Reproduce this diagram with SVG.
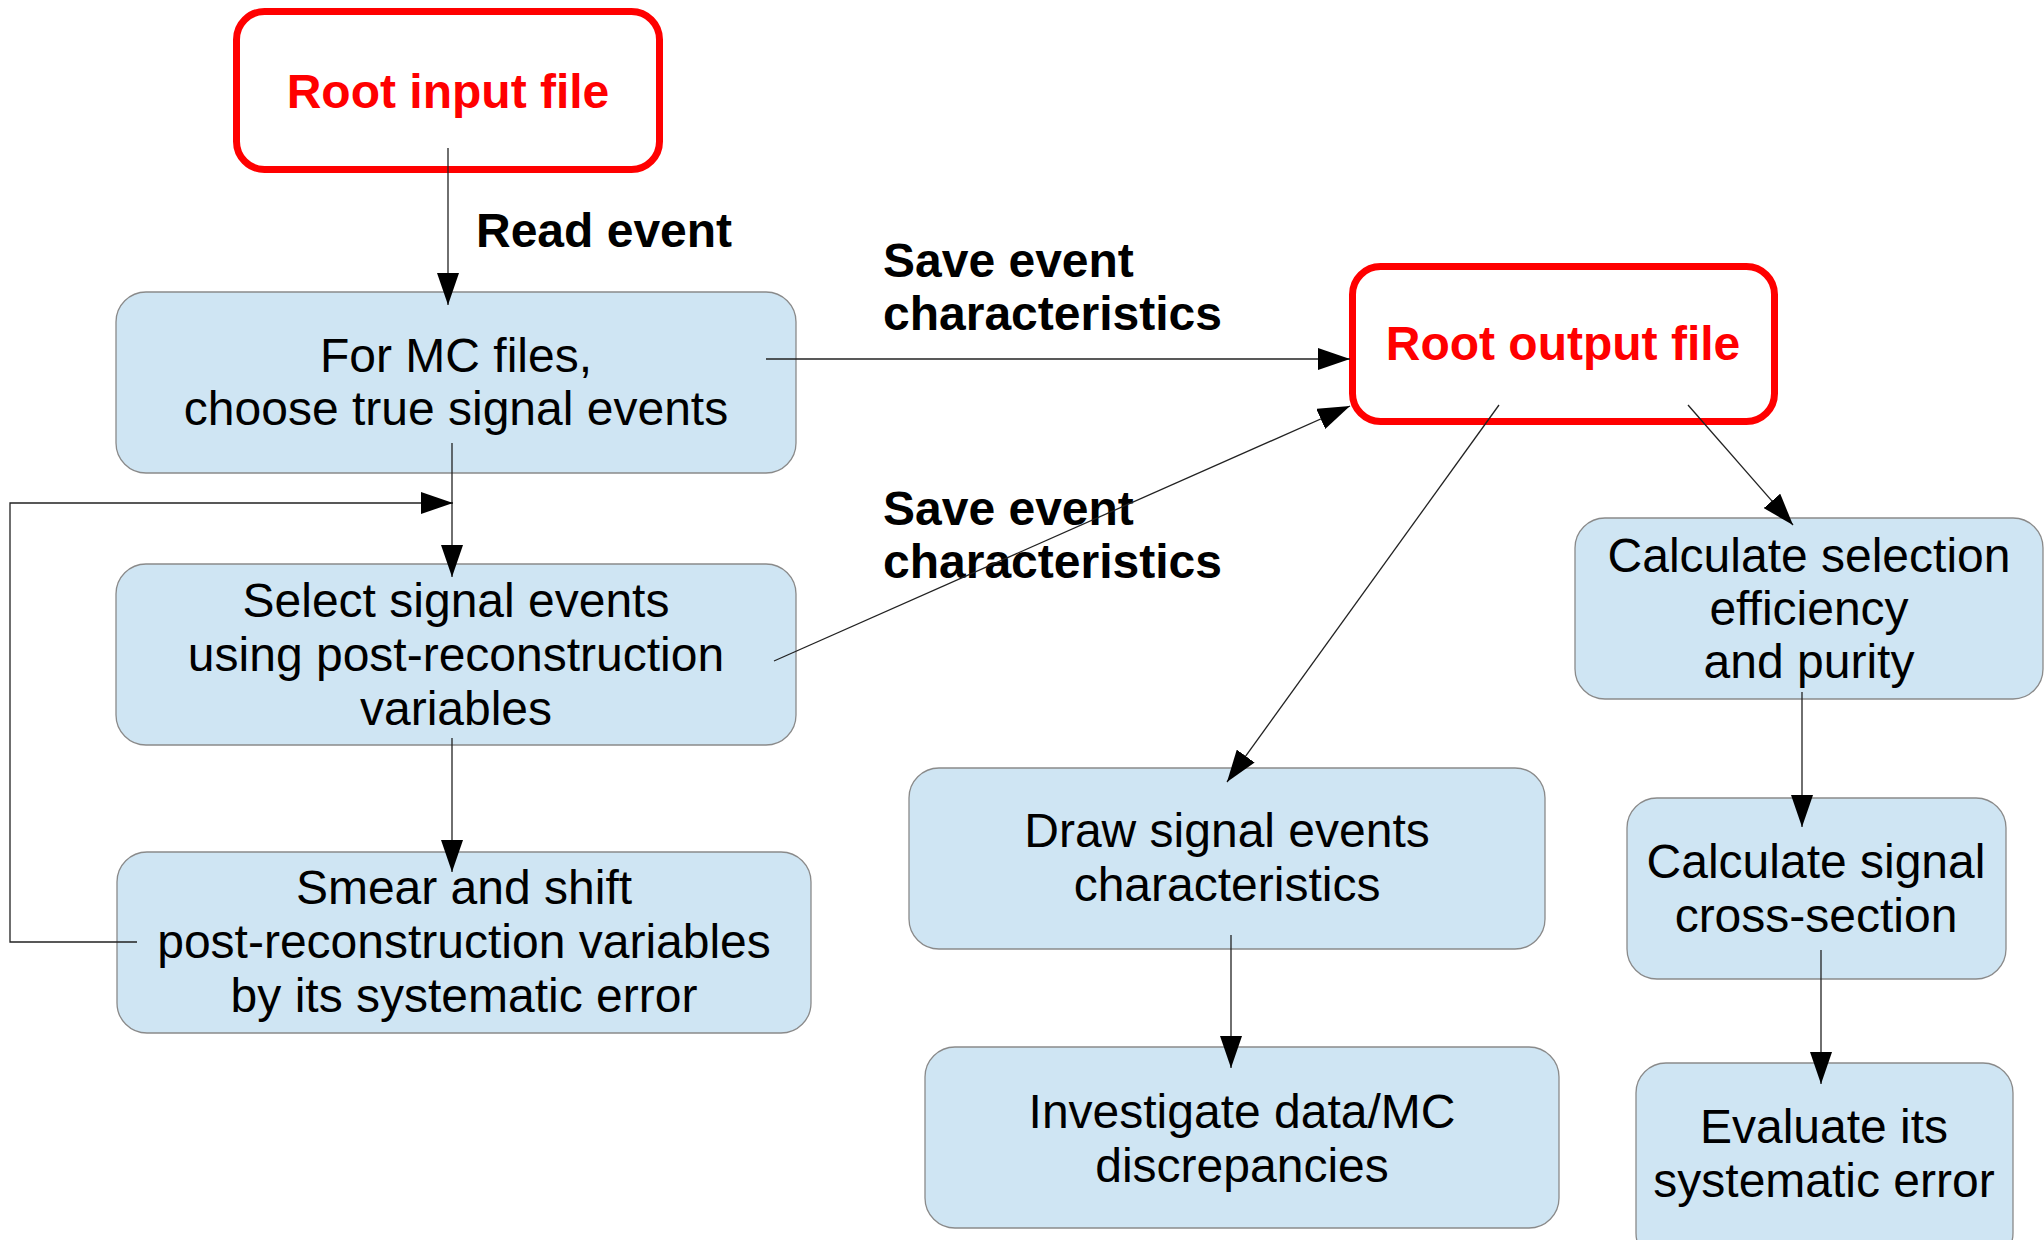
<svg xmlns="http://www.w3.org/2000/svg" width="2044" height="1240" viewBox="0 0 2044 1240">
<defs>
<style>
.box{fill:#cfe5f3;stroke:#8a8a8a;stroke-width:1.3}
.red{fill:#ffffff;stroke:#ff0000;stroke-width:7}
.t{font-family:"Liberation Sans",Arial,sans-serif;font-size:48px;fill:#000;text-anchor:middle}
.rt{font-family:"Liberation Sans",Arial,sans-serif;font-size:48px;font-weight:bold;fill:#ff0000;text-anchor:middle}
.lbl{font-family:"Liberation Sans",Arial,sans-serif;font-size:48px;font-weight:bold;fill:#000}
.c{fill:none;stroke:#222;stroke-width:1.3;marker-end:url(#ah)}
</style>
<marker id="ah" markerUnits="userSpaceOnUse" markerWidth="32" markerHeight="22" refX="32" refY="11" orient="auto" viewBox="0 0 32 22">
<path d="M0,0 L32,11 L0,22 z" fill="#000"/>
</marker>
</defs>
<rect width="2044" height="1240" fill="#ffffff"/>

<g id="root-input">
<rect class="red" x="236.5" y="11.5" width="423" height="158" rx="28"/>
<text class="rt" x="448" y="108">Root input file</text>
</g>

<g id="for-mc">
<rect class="box" x="116" y="292" width="680" height="181" rx="30"/>
<text class="t" x="456" y="372">For MC files,</text>
<text class="t" x="456" y="425">choose true signal events</text>
</g>

<g id="select">
<rect class="box" x="116" y="564" width="680" height="181" rx="30"/>
<text class="t" x="456" y="617">Select signal events</text>
<text class="t" x="456" y="671">using post-reconstruction</text>
<text class="t" x="456" y="725">variables</text>
</g>

<g id="smear">
<rect class="box" x="117" y="852" width="694" height="181" rx="30"/>
<text class="t" x="464" y="904">Smear and shift</text>
<text class="t" x="464" y="958">post-reconstruction variables</text>
<text class="t" x="464" y="1012">by its systematic error</text>
</g>

<g id="root-output">
<rect class="red" x="1352.5" y="266.5" width="422" height="155" rx="28"/>
<text class="rt" x="1563" y="360">Root output file</text>
</g>

<g id="calc-selection">
<rect class="box" x="1575" y="518" width="468" height="181" rx="30"/>
<text class="t" x="1809" y="572">Calculate selection</text>
<text class="t" x="1809" y="625">efficiency</text>
<text class="t" x="1809" y="678">and purity</text>
</g>

<g id="calc-signal">
<rect class="box" x="1627" y="798" width="379" height="181" rx="30"/>
<text class="t" x="1816" y="878">Calculate signal</text>
<text class="t" x="1816" y="932">cross-section</text>
</g>

<g id="evaluate">
<rect class="box" x="1636" y="1063" width="377" height="200" rx="30"/>
<text class="t" x="1824" y="1143">Evaluate its</text>
<text class="t" x="1824" y="1197">systematic error</text>
</g>

<g id="draw">
<rect class="box" x="909" y="768" width="636" height="181" rx="30"/>
<text class="t" x="1227" y="847">Draw signal events</text>
<text class="t" x="1227" y="901">characteristics</text>
</g>

<g id="investigate">
<rect class="box" x="925" y="1047" width="634" height="181" rx="30"/>
<text class="t" x="1242" y="1128">Investigate data/MC</text>
<text class="t" x="1242" y="1182">discrepancies</text>
</g>

<g id="labels">
<text class="lbl" x="476" y="247">Read event</text>
<text class="lbl" x="883" y="277">Save event</text>
<text class="lbl" x="883" y="330">characteristics</text>
<text class="lbl" x="883" y="525">Save event</text>
<text class="lbl" x="883" y="578">characteristics</text>
</g>

<g id="connectors">
<path class="c" d="M448,148 V305"/>
<path class="c" d="M766,359 H1350"/>
<path class="c" d="M774,661 L1350,406"/>
<path class="c" d="M452,443 V577"/>
<path class="c" d="M452,738 V872"/>
<path class="c" d="M137,942 H10 V503 H453"/>
<path class="c" d="M1499,405 L1227,782"/>
<path class="c" d="M1688,405 L1793,525"/>
<path class="c" d="M1231,935 V1068"/>
<path class="c" d="M1802,692 V827"/>
<path class="c" d="M1821,950 V1084"/>
</g>
</svg>
